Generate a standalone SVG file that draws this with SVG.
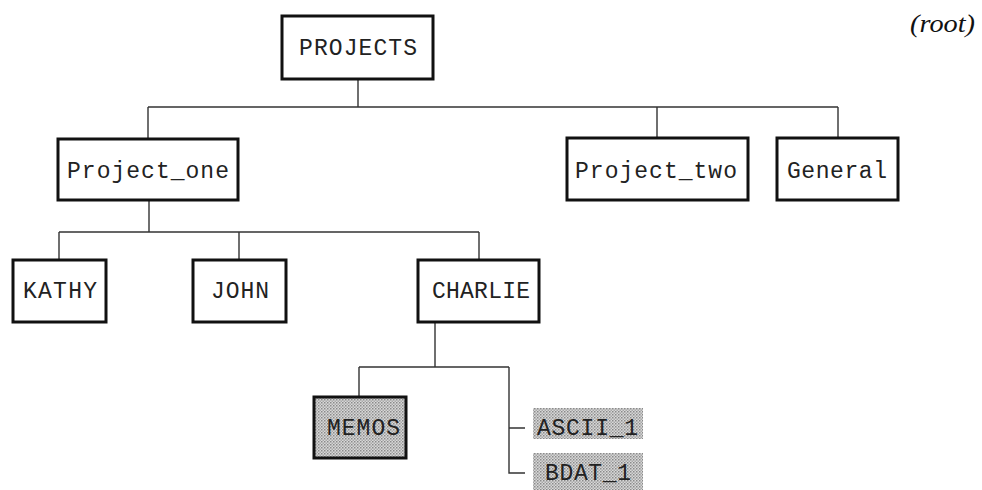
<svg xmlns="http://www.w3.org/2000/svg" width="982" height="490" viewBox="0 0 982 490">
<style>
.box{fill:#fff;stroke:#111;stroke-width:3}
.shade{fill:url(#dots)}
.lbl{font-family:"Liberation Mono","DejaVu Sans Mono",monospace;font-size:23px;fill:#222}
.conn{fill:none;stroke:#333;stroke-width:1.4}
.root{font-family:"Liberation Serif","DejaVu Serif",serif;font-style:italic;font-size:25px;fill:#111}
</style>
<defs>
<pattern id="dots" width="3" height="3" patternUnits="userSpaceOnUse">
<rect width="3" height="3" fill="#d8d8d8"/>
<rect width="1.5" height="1.5" fill="#8a8a8a"/>
<rect x="1.5" y="1.5" width="1.5" height="1.5" fill="#a8a8a8"/>
</pattern>
</defs>
<rect width="982" height="490" fill="#fff"/>
<g id="connectors">
<path class="conn" d="M358 79V107M148 107H838M148 107V139M657 107V138M838 107V138"/>
<path class="conn" d="M149 200V232M59 232H479M59 232V260M239 232V260M479 232V260"/>
<path class="conn" d="M435 322V367M359 367H509M359 367V397M509 367V473H525M509 428H525"/>
</g>
<g id="projects"><rect class="box" x="282" y="16" width="151" height="63"/><text class="lbl" x="299" y="55" textLength="118" lengthAdjust="spacing">PROJECTS</text></g>
<g id="project_one"><rect class="box" x="58" y="139" width="180" height="61"/><text class="lbl" x="67" y="178" textLength="162" lengthAdjust="spacing">Project_one</text></g>
<g id="project_two"><rect class="box" x="567" y="138" width="181" height="62"/><text class="lbl" x="575" y="178" textLength="162" lengthAdjust="spacing">Project_two</text></g>
<g id="general"><rect class="box" x="777" y="138" width="121" height="62"/><text class="lbl" x="787" y="178" textLength="100" lengthAdjust="spacing">General</text></g>
<g id="kathy"><rect class="box" x="13" y="260" width="93" height="62"/><text class="lbl" x="23" y="298" textLength="74" lengthAdjust="spacing">KATHY</text></g>
<g id="john"><rect class="box" x="193" y="260" width="93" height="62"/><text class="lbl" x="211" y="298" textLength="58" lengthAdjust="spacing">JOHN</text></g>
<g id="charlie"><rect class="box" x="418" y="260" width="121" height="62"/><text class="lbl" x="432" y="298" textLength="98" lengthAdjust="spacing">CHARLIE</text></g>
<g id="memos"><rect class="box shade" x="314" y="397" width="92" height="61"/><text class="lbl" x="327" y="435" textLength="73" lengthAdjust="spacing">MEMOS</text></g>
<g id="ascii_1"><rect class="shade" x="533" y="408" width="110" height="31"/><text class="lbl" x="537" y="435" textLength="101" lengthAdjust="spacing">ASCII_1</text></g>
<g id="bdat_1"><rect class="shade" x="533" y="453" width="110" height="37"/><text class="lbl" x="545" y="480" textLength="86" lengthAdjust="spacing">BDAT_1</text></g>
<text class="root" x="910" y="32" textLength="65" lengthAdjust="spacingAndGlyphs">(root)</text>
</svg>
